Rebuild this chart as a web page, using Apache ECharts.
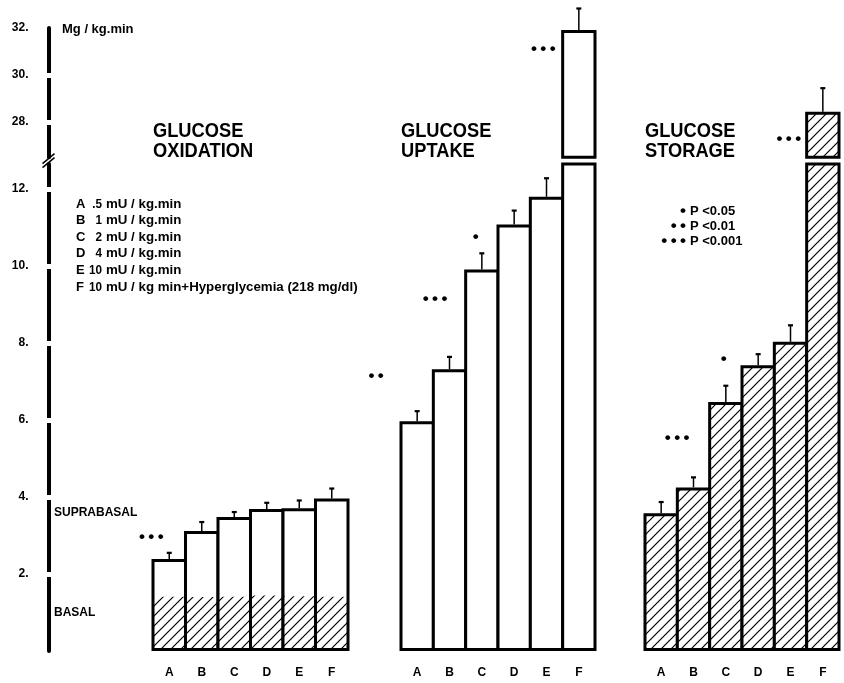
<!DOCTYPE html>
<html>
<head>
<meta charset="utf-8">
<script src="https://cdn.jsdelivr.net/npm/echarts@6/dist/echarts.min.js"></script>
<style>
html,body{margin:0;padding:0;background:#fff;}
#c{width:844px;height:683px;}
</style>
</head>
<body>
<div id="c"></div>
<script>
// ---------------- data ----------------
const CATEGORIES = ['A', 'B', 'C', 'D', 'E', 'F'];
const OXIDATION = [2.39, 3.12, 3.48, 3.69, 3.71, 3.96];
const OXIDATION_ERR = [0.16, 0.23, 0.13, 0.16, 0.20, 0.26];
const OXIDATION_BASAL = [1.41, 1.40, 1.41, 1.44, 1.42, 1.41];
const UPTAKE = [5.97, 7.32, 9.91, 11.08, 11.80, 31.91];
const UPTAKE_ERR = [0.26, 0.32, 0.42, 0.36, 0.48, 0.92];
const STORAGE = [3.58, 4.25, 6.47, 7.42, 8.03, 28.44];
const STORAGE_ERR = [0.29, 0.26, 0.42, 0.29, 0.43, 1.00];
const LOWER_TICKS = [2, 4, 6, 8, 10, 12];
const UPPER_TICKS = [28, 30];
const UPPER_LABELS = [28, 30, 32];
const DOSE_LETTERS = ['A', 'B', 'C', 'D', 'E', 'F'];
const DOSE_AMOUNTS = ['.5', '1', '2', '4', '10', '10'];
const DOSE_UNITS = ['mU / kg.min', 'mU / kg.min', 'mU / kg.min', 'mU / kg.min', 'mU / kg.min', 'mU / kg min+Hyperglycemia (218 mg/dl)'];
const P_MARKS = ['•', '••', '•••'];
const P_TEXTS = ['P <0.05', 'P <0.01', 'P <0.001'];

// ---------------- layout / style ----------------
const FONT = "'Liberation Sans', Arial, Helvetica, sans-serif";
const AX_X = 48.5;
const BORDER = 3;
const LOWER = { min: 0, max: 12.65, top: 164, height: 487 };
const UPPER = { min: 26.5, max: 32, top: 28, height: 129.25 };
const PANELS = [{ left: 153, width: 195 }, { left: 401, width: 194 }, { left: 645, width: 194 }];

function hatch(bg) {
  const s = 10;
  const c = document.createElement('canvas');
  c.width = s; c.height = s;
  const g = c.getContext('2d');
  if (bg) { g.fillStyle = bg; g.fillRect(0, 0, s, s); }
  g.strokeStyle = '#000'; g.lineWidth = 1.2;
  g.beginPath();
  g.moveTo(0, s); g.lineTo(s, 0);
  g.moveTo(-s / 2, s / 2); g.lineTo(s / 2, -s / 2);
  g.moveTo(s / 2, s * 1.5); g.lineTo(s * 1.5, s / 2);
  g.stroke();
  return { image: c, repeat: 'repeat' };
}

const chart = echarts.init(document.getElementById('c'), null, { renderer: 'canvas', width: 844, height: 683 });

const gridDefs = [
  { left: AX_X, top: LOWER.top, width: 1, height: LOWER.height },
  { left: AX_X, top: UPPER.top, width: 1, height: UPPER.height },
  { left: PANELS[0].left, width: PANELS[0].width, top: LOWER.top, height: LOWER.height },
  { left: PANELS[1].left, width: PANELS[1].width, top: LOWER.top, height: LOWER.height },
  { left: PANELS[2].left, width: PANELS[2].width, top: LOWER.top, height: LOWER.height },
  { left: PANELS[1].left, width: PANELS[1].width, top: UPPER.top, height: UPPER.height },
  { left: PANELS[2].left, width: PANELS[2].width, top: UPPER.top, height: UPPER.height }
].map(g => Object.assign({ containLabel: false, outerBoundsMode: 'none', show: false }, g));

function xAxisFor(gridIndex, labels, isPanel) {
  return {
    gridIndex, type: 'category', data: isPanel ? CATEGORIES : [''],
    axisLine: { show: false }, axisTick: { show: false }, splitLine: { show: false },
    axisLabel: { show: labels, margin: 16, fontSize: 12, fontWeight: 'bold', color: '#000', fontFamily: FONT }
  };
}
function scaleAxis(gridIndex, sc, ticks, labels, main) {
  return {
    gridIndex, type: 'value', min: sc.min, max: sc.max, position: 'left', offset: 0,
    axisLine: { show: main, onZero: false, lineStyle: { color: '#000', width: 4 } },
    axisTick: { show: true, inside: main, length: 3, customValues: ticks, lineStyle: { color: '#fff', width: 5 } },
    axisLabel: { show: main, customValues: labels, formatter: v => v + '.', margin: 20,
      fontSize: 12, fontWeight: 'bold', color: '#000', fontFamily: FONT },
    splitLine: { show: false }
  };
}
function hiddenAxis(gridIndex, sc) {
  return { gridIndex, type: 'value', min: sc.min, max: sc.max, show: false, splitLine: { show: false } };
}

const xAxes = [
  xAxisFor(0, false, false), xAxisFor(1, false, false),
  xAxisFor(2, true, true), xAxisFor(3, true, true), xAxisFor(4, true, true),
  xAxisFor(5, false, true), xAxisFor(6, false, true)
];
const yAxes = [
  scaleAxis(0, LOWER, LOWER_TICKS, LOWER_TICKS, true),   // 0
  scaleAxis(0, LOWER, LOWER_TICKS, LOWER_TICKS, false),  // 1
  scaleAxis(1, UPPER, UPPER_TICKS, UPPER_LABELS, true),  // 2
  scaleAxis(1, UPPER, UPPER_TICKS, UPPER_LABELS, false), // 3
  hiddenAxis(2, LOWER), // 4
  hiddenAxis(3, LOWER), // 5
  hiddenAxis(4, LOWER), // 6
  hiddenAxis(5, UPPER), // 7
  hiddenAxis(6, UPPER)  // 8
];

const outlined = { color: '#fff', borderColor: '#000', borderWidth: BORDER };
const hatchedOutlined = { color: hatch('#fff'), borderColor: '#000', borderWidth: BORDER };
// ECharts insets a bar by half its border; widen by the border so neighbours share one edge line
const barW = p => PANELS[p].width / CATEGORIES.length + BORDER;
const barBase = { type: 'bar', barGap: '-100%', clip: true, animation: false, silent: true };

function errSeries(xi, yi, vals, errs, sc) {
  const data = vals.map((v, i) => [i, v, errs[i]]).filter(d => d[1] >= sc.min && d[1] <= sc.max);
  return {
    type: 'custom', xAxisIndex: xi, yAxisIndex: yi, data, z: 6, clip: false, animation: false, silent: true,
    encode: { x: 0, y: 1 },
    renderItem(params, api) {
      const c = api.value(0), v = api.value(1), e = api.value(2);
      const p0 = api.coord([c, v]);
      const p1 = api.coord([c, v + e]);
      return {
        type: 'group', children: [
          { type: 'line', shape: { x1: p0[0], y1: p0[1], x2: p1[0], y2: p1[1] }, style: { stroke: '#000', lineWidth: 1.5 } },
          { type: 'line', shape: { x1: p1[0] - 2.5, y1: p1[1], x2: p1[0] + 2.5, y2: p1[1] }, style: { stroke: '#000', lineWidth: 2.2 } }
        ]
      };
    }
  };
}

const series = [
  Object.assign({}, barBase, { name: 'Glucose oxidation', xAxisIndex: 2, yAxisIndex: 4, barWidth: barW(0), data: OXIDATION, itemStyle: outlined, z: 2 }),
  Object.assign({}, barBase, { name: 'Basal oxidation', xAxisIndex: 2, yAxisIndex: 4, barWidth: barW(0), data: OXIDATION_BASAL, itemStyle: { color: hatch(null), borderWidth: 0 }, z: 3 }),
  Object.assign({}, barBase, { name: 'Glucose uptake', xAxisIndex: 3, yAxisIndex: 5, barWidth: barW(1), data: UPTAKE, itemStyle: outlined, z: 2 }),
  Object.assign({}, barBase, { name: 'Glucose storage', xAxisIndex: 4, yAxisIndex: 6, barWidth: barW(2), data: STORAGE, itemStyle: hatchedOutlined, z: 2 }),
  Object.assign({}, barBase, { name: 'Glucose uptake (upper)', xAxisIndex: 5, yAxisIndex: 7, barWidth: barW(1), data: UPTAKE, itemStyle: outlined, z: 2 }),
  Object.assign({}, barBase, { name: 'Glucose storage (upper)', xAxisIndex: 6, yAxisIndex: 8, barWidth: barW(2), data: STORAGE, itemStyle: hatchedOutlined, z: 2 }),
  errSeries(2, 4, OXIDATION, OXIDATION_ERR, LOWER),
  errSeries(3, 5, UPTAKE, UPTAKE_ERR, LOWER),
  errSeries(4, 6, STORAGE, STORAGE_ERR, LOWER),
  errSeries(5, 7, UPTAKE, UPTAKE_ERR, UPPER),
  errSeries(6, 8, STORAGE, STORAGE_ERR, UPPER)
];

chart.setOption({
  animation: false,
  backgroundColor: '#fff',
  grid: gridDefs,
  xAxis: xAxes,
  yAxis: yAxes,
  series
});

// ---------------- annotations ----------------
function txt(x, y, text, size, extra) {
  extra = extra || {};
  return {
    type: 'text', x, y, scaleX: extra.scaleX || 1, silent: true, z: 10,
    style: {
      text, fontFamily: FONT, fontWeight: 'bold', fontSize: size, fill: '#000',
      align: extra.align || 'left', verticalAlign: extra.va || 'middle', lineHeight: extra.lh
    }
  };
}
const dots = m => m.split('').join('\u2009');
const graphics = [];
graphics.push(txt(62, 29, 'Mg / kg.min', 13));
[['GLUCOSE\nOXIDATION', 0], ['GLUCOSE\nUPTAKE', 1], ['GLUCOSE\nSTORAGE', 2]].forEach(([t, i]) => {
  graphics.push(txt(PANELS[i].left, 121, t, 21, { va: 'top', lh: 20, scaleX: 0.87 }));
});
DOSE_LETTERS.forEach((l, i) => {
  const y = 204 + 16.6 * i;
  graphics.push(txt(76, y, l, 13));
  graphics.push(txt(102, y, DOSE_AMOUNTS[i], 13, { align: 'right', scaleX: 0.9 }));
  graphics.push(txt(106, y, DOSE_UNITS[i], 13.3));
});
graphics.push(txt(54, 513, 'SUPRABASAL', 12));
graphics.push(txt(54, 613, 'BASAL', 12));
P_MARKS.forEach((m, i) => {
  const y = 211 + 15 * i;
  graphics.push(txt(686, y, dots(m), 17, { align: 'right' }));
  graphics.push(txt(690, y, P_TEXTS[i], 13));
});

// axis break mark between the two scales
const gapMid = (UPPER.top + UPPER.height + LOWER.top) / 2;
[[-2], [2]].forEach(([d]) => {
  graphics.push({ type: 'line', silent: true, z: 10,
    shape: { x1: AX_X - 6, y1: gapMid + 5 + d, x2: AX_X + 6, y2: gapMid - 5 + d },
    style: { stroke: '#000', lineWidth: 1.5 } });
});

// significance markers anchored to the panel's axes
const SIG = [
  { xi: 2, yi: 4, cat: 0, value: 2.96, marks: '•••', dx: -18 },
  { xi: 3, yi: 5, cat: 0, value: 7.14, marks: '••', dx: -41 },
  { xi: 3, yi: 5, cat: 1, value: 9.14, marks: '•••', dx: -14.5 },
  { xi: 3, yi: 5, cat: 2, value: 10.75, marks: '•', dx: -6 },
  { xi: 5, yi: 7, cat: 5, value: 31.11, marks: '•••', dx: -35.5 },
  { xi: 4, yi: 6, cat: 0, value: 5.53, marks: '•••', dx: 16 },
  { xi: 4, yi: 6, cat: 2, value: 7.58, marks: '•', dx: -2 },
  { xi: 6, yi: 8, cat: 5, value: 27.28, marks: '•••', dx: -34 }
];
SIG.forEach(s => {
  const p = chart.convertToPixel({ xAxisIndex: s.xi, yAxisIndex: s.yi }, [s.cat, s.value]);
  graphics.push(txt(p[0] + s.dx, p[1], dots(s.marks), 17, { align: 'center' }));
});

chart.setOption({ graphic: graphics });
</script>
</body>
</html>
